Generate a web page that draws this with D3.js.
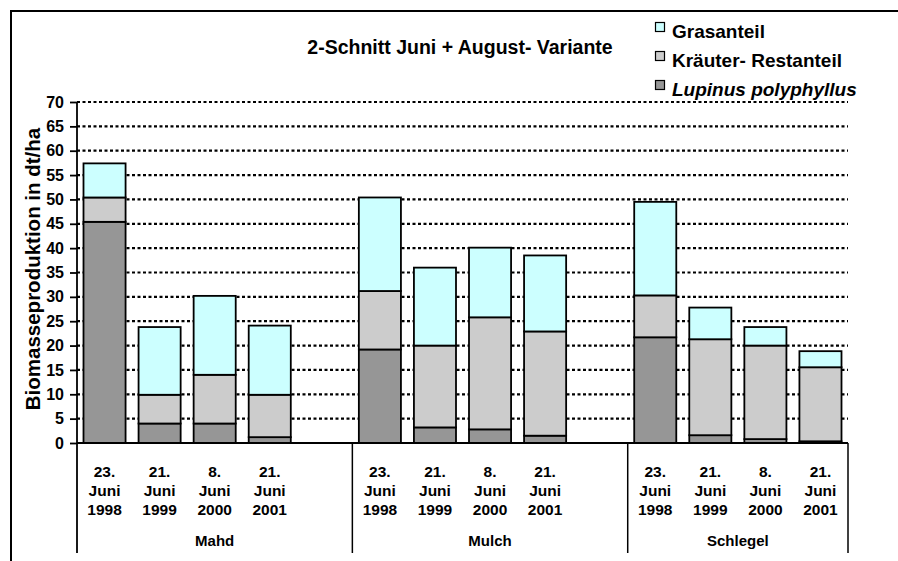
<!DOCTYPE html>
<html>
<head>
<meta charset="utf-8">
<script src="https://cdn.jsdelivr.net/npm/d3@7"></script>
<style>
  body { margin: 0; background: #fff; }
  text { font-family: "Liberation Sans", Arial, sans-serif; font-weight: bold; fill: #000; }
</style>
</head>
<body>
<div id="chart"></div>
<script>
// values (dt/ha)
const groups = ["Mahd", "Mulch", "Schlegel"];
const dateLabels = [["23.", "Juni", "1998"], ["21.", "Juni", "1999"], ["8.", "Juni", "2000"], ["21.", "Juni", "2001"]];
const seriesNames = ["Lupinus polyphyllus", "Kräuter- Restanteil", "Grasanteil"];
const lupinus = [45.4, 4.0, 4.0, 1.2, 19.2, 3.2, 2.8, 1.5, 21.7, 1.6, 0.8, 0.35];
const kraeuter = [5.0, 5.9, 10.0, 8.7, 12.0, 16.8, 23.0, 21.4, 8.6, 19.7, 19.2, 15.2];
const gras = [7.0, 13.9, 16.2, 14.2, 19.2, 16.0, 14.3, 15.6, 19.2, 6.5, 3.8, 3.3];
const yTicks = [0, 5, 10, 15, 20, 25, 30, 35, 40, 45, 50, 55, 60, 65, 70];
const colors = ["#969696", "#cccccc", "#ccffff"];

var width = 898, height = 561;
var margin = { left: 77, top: 102, right: 50, bottom: 118 };

// slots: 4 bars per group and an empty slot between groups
var slots = [];
var rows = [];
groups.forEach(function (g, gi) {
    dateLabels.forEach(function (d, di) {
        var key = g + "-" + di;
        slots.push(key);
        var i = gi * 4 + di;
        rows.push({ key: key, group: g, date: d, lup: lupinus[i], kr: kraeuter[i], gr: gras[i] });
    });
    if (gi < groups.length - 1) slots.push("gap-" + gi);
});

var svg = d3.select("#chart").append("svg")
    .attr("width", width)
    .attr("height", height);

// outer frame (runs off the right and bottom of the picture)
svg.append("rect")
    .attr("x", 11).attr("y", 11)
    .attr("width", 900).attr("height", 600)
    .attr("fill", "none").attr("stroke", "#000").attr("stroke-width", 2);

var x = d3.scaleBand()
    .domain(slots)
    .range([margin.left, width - margin.right])
    .paddingInner(0.236)
    .paddingOuter(0.118);

var y = d3.scaleLinear()
    .domain([0, 70])
    .range([height - margin.bottom, margin.top]);

// grid lines
svg.append("g").selectAll("line")
    .data(yTicks.filter(d => d > 0))
    .enter().append("line")
    .attr("x1", margin.left).attr("x2", width - margin.right)
    .attr("y1", d => y(d)).attr("y2", d => y(d))
    .attr("stroke", "#000")
    .attr("stroke-width", 2.2)
    .attr("stroke-dasharray", "3,2.5");

// stacked bars
var stack = d3.stack().keys(["lup", "kr", "gr"]);
var layers = stack(rows);

svg.append("g").selectAll("g")
    .data(layers)
    .enter().append("g")
    .attr("fill", (d, i) => colors[i])
    .selectAll("rect")
    .data(d => d)
    .enter().append("rect")
    .attr("x", d => x(d.data.key))
    .attr("width", x.bandwidth())
    .attr("y", d => y(d[1]))
    .attr("height", d => y(d[0]) - y(d[1]))
    .attr("stroke", "#000")
    .attr("stroke-width", 1.8);

// y axis
var yAxis = d3.axisLeft(y).tickValues(yTicks).tickSize(7).tickPadding(6);
var ya = svg.append("g")
    .attr("transform", "translate(" + margin.left + ",0)")
    .call(yAxis);
ya.select(".domain").remove();
ya.selectAll("line").attr("stroke", "#000").attr("stroke-width", 1.8);
ya.selectAll("text").style("font-size", "16px").style("font-family", "'Liberation Sans', Arial, sans-serif").style("font-weight", "bold");

svg.append("line")
    .attr("x1", margin.left).attr("x2", margin.left)
    .attr("y1", y(70)).attr("y2", 553)
    .attr("stroke", "#000").attr("stroke-width", 1.8);

// x axis line
svg.append("line")
    .attr("x1", margin.left).attr("x2", width - margin.right)
    .attr("y1", y(0)).attr("y2", y(0))
    .attr("stroke", "#000").attr("stroke-width", 1.8);

// group dividers
var groupEdges = [];
groups.forEach(function (g, gi) {
    var first = x(g + "-0") - x.step() * x.paddingInner() / 2;
    var lastKey = gi < groups.length - 1 ? "gap-" + gi : g + "-3";
    var last = x(lastKey) + x.bandwidth() + x.step() * x.paddingInner() / 2;
    groupEdges.push([first, last]);
});
svg.append("g").selectAll("line")
    .data(groupEdges)
    .enter().append("line")
    .attr("x1", d => d[1]).attr("x2", d => d[1])
    .attr("y1", y(0)).attr("y2", 553)
    .attr("stroke", "#000").attr("stroke-width", 1.5);

// date labels
var dl = svg.append("g").selectAll("text")
    .data(rows)
    .enter().append("text")
    .attr("text-anchor", "middle")
    .style("font-size", "15.5px");
[0, 1, 2].forEach(function (li) {
    dl.append("tspan")
        .attr("x", d => x(d.key) + x.bandwidth() / 2)
        .attr("y", 477 + li * 19)
        .text(d => d.date[li]);
});

// group labels
svg.append("g").selectAll("text")
    .data(groups)
    .enter().append("text")
    .attr("x", (d, i) => (groupEdges[i][0] + groupEdges[i][1]) / 2)
    .attr("y", 546)
    .attr("text-anchor", "middle")
    .style("font-size", "15px")
    .text(d => d);

// y title
svg.append("text")
    .attr("transform", "translate(40,269) rotate(-90)")
    .attr("text-anchor", "middle")
    .style("font-size", "20.5px")
    .text("Biomasseproduktion in dt/ha");

// title
svg.append("text")
    .attr("x", 460).attr("y", 54)
    .attr("text-anchor", "middle")
    .style("font-size", "19.5px")
    .text("2-Schnitt Juni + August- Variante");

// legend
var legendOrder = [2, 1, 0];
var lg = svg.append("g").selectAll("g")
    .data(legendOrder)
    .enter().append("g")
    .attr("transform", (d, i) => "translate(655," + (38 + i * 29) + ")");
lg.append("rect")
    .attr("x", 0.5).attr("y", -15.5)
    .attr("width", 9).attr("height", 9)
    .attr("fill", d => colors[d])
    .attr("stroke", "#000").attr("stroke-width", 1.2);
lg.append("text")
    .attr("x", 17).attr("y", 0)
    .style("font-size", "19px")
    .style("font-style", d => d === 0 ? "italic" : "normal")
    .text(d => seriesNames[d]);
</script>
</body>
</html>
